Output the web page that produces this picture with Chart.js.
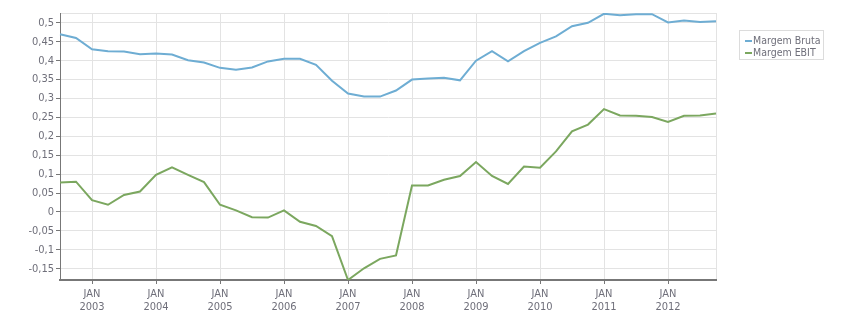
<!DOCTYPE html>
<html>
<head>
<meta charset="utf-8">
<script src="https://cdn.jsdelivr.net/npm/chart.js@4.4.1/dist/chart.umd.min.js"></script>
<style>
  body { margin: 0; background: #fff; }
  #wrap { position: relative; width: 851px; height: 313px; }
  #legenda {
    position: absolute; left: 739px; top: 30px; height: 30px;
    border: 1px solid #dcdcdc; box-sizing: border-box;
    font: 10.5px 'DejaVu Sans Condensed', 'Liberation Sans', sans-serif; color: #6f6f7a;
    padding: 3px 2px 0 5px;
  }
  #legenda div { height: 12px; line-height: 12px; white-space: nowrap; }
  #legenda span { display: inline-block; width: 7px; height: 2px; vertical-align: middle; margin-right: 1px; }
</style>
</head>
<body>
<div id="wrap">
  <canvas id="myChart" width="851" height="313"></canvas>
  <div id="legenda"></div>
</div>
<script>
// trimestres (mes/ano)
var periodos = [
    '07/2002', '10/2002',
    '01/2003', '04/2003', '07/2003', '10/2003',
    '01/2004', '04/2004', '07/2004', '10/2004',
    '01/2005', '04/2005', '07/2005', '10/2005',
    '01/2006', '04/2006', '07/2006', '10/2006',
    '01/2007', '04/2007', '07/2007', '10/2007',
    '01/2008', '04/2008', '07/2008', '10/2008',
    '01/2009', '04/2009', '07/2009', '10/2009',
    '01/2010', '04/2010', '07/2010', '10/2010',
    '01/2011', '04/2011', '07/2011', '10/2011',
    '01/2012', '04/2012', '07/2012', '10/2012'
];

var margemBruta = [
    0.470, 0.460,
    0.430, 0.425, 0.424, 0.417,
    0.419, 0.416, 0.401, 0.395,
    0.381, 0.376, 0.382, 0.398,
    0.405, 0.405, 0.389, 0.347,
    0.313, 0.305, 0.305, 0.321,
    0.350, 0.353, 0.355, 0.348,
    0.400, 0.425, 0.398, 0.425,
    0.447, 0.464, 0.491, 0.500,
    0.524, 0.520, 0.523, 0.523,
    0.501, 0.506, 0.502, 0.504
];

var margemEbit = [
    0.078, 0.080,
    0.031, 0.019, 0.045, 0.054,
    0.098, 0.118, 0.098, 0.079,
    0.019, 0.004, -0.014, -0.015,
    0.004, -0.026, -0.037, -0.064,
    -0.180, -0.149, -0.124, -0.115,
    0.070, 0.070, 0.085, 0.095,
    0.132, 0.095, 0.074, 0.120,
    0.117, 0.160, 0.213, 0.231,
    0.272, 0.255, 0.254, 0.251,
    0.238, 0.254, 0.255, 0.260
];

var yTicks = [-0.15, -0.1, -0.05, 0, 0.05, 0.1, 0.15, 0.2, 0.25, 0.3, 0.35, 0.4, 0.45, 0.5];
var yMin = -0.18, yMax = 0.526;

var fonte = { family: "'DejaVu Sans Condensed', 'Liberation Sans', sans-serif", size: 11, lineHeight: 1.25 };
var corTexto = '#6f6f7a';
var corGrade = '#e3e3e3';
var corEixo = '#777777';

function ehJaneiro(i) {
    return periodos[i] && periodos[i].substr(0, 2) === '01';
}

var ctx = document.getElementById('myChart').getContext('2d');
var myChart = new Chart(ctx, {
    type: 'line',
    data: {
        labels: periodos,
        datasets: [{
            label: 'Margem Bruta',
            data: margemBruta,
            borderColor: '#6eadd3',
            borderWidth: 2,
            pointRadius: 0,
            tension: 0
        }, {
            label: 'Margem EBIT',
            data: margemEbit,
            borderColor: '#7ba75f',
            borderWidth: 2,
            pointRadius: 0,
            tension: 0
        }]
    },
    options: {
        responsive: false,
        animation: false,
        layout: { padding: { top: 13, right: 135, left: 0, bottom: 0 } },
        plugins: {
            legend: { display: false },
            tooltip: { enabled: false }
        },
        scales: {
            x: {
                offset: false,
                grid: {
                    color: function (c) {
                        if (c.index === periodos.length - 1) return corGrade;
                        return ehJaneiro(c.index) ? corGrade : 'rgba(0,0,0,0)';
                    },
                    tickColor: function (c) {
                        return ehJaneiro(c.index) ? corEixo : 'rgba(0,0,0,0)';
                    },
                    tickLength: 4
                },
                border: { color: corEixo, width: 2 },
                ticks: {
                    autoSkip: false,
                    maxRotation: 0,
                    minRotation: 0,
                    padding: 3,
                    color: corTexto,
                    font: fonte,
                    callback: function (v, i) {
                        if (!ehJaneiro(i)) return '';
                        return ['JAN', periodos[i].substr(3)];
                    }
                },
                afterFit: function (scale) { scale.height = 33; }
            },
            y: {
                min: yMin,
                max: yMax,
                afterBuildTicks: function (scale) {
                    var t = [{ value: yMin }];
                    yTicks.forEach(function (v) { t.push({ value: v }); });
                    t.push({ value: yMax });
                    scale.ticks = t;
                },
                grid: {
                    color: function (c) {
                        return c.index === 0 ? 'rgba(0,0,0,0)' : corGrade;
                    },
                    tickColor: function (c) {
                        return (c.index === 0 || c.index === yTicks.length + 1) ? 'rgba(0,0,0,0)' : corEixo;
                    },
                    tickLength: 4
                },
                border: { color: corEixo, width: 1 },
                ticks: {
                    padding: 2,
                    color: corTexto,
                    font: fonte,
                    callback: function (v, i) {
                        if (i === 0 || i === yTicks.length + 1) return '';
                        return String(Math.round(v * 100) / 100).replace('.', ',');
                    }
                },
                afterFit: function (scale) { scale.width = 60; }
            }
        }
    }
});

// legenda em html
var leg = document.getElementById('legenda');
myChart.data.datasets.forEach(function (ds) {
    var item = document.createElement('div');
    item.innerHTML = '<span style="background:' + ds.borderColor + '"></span>' + ds.label;
    leg.appendChild(item);
});
</script>
</body>
</html>
